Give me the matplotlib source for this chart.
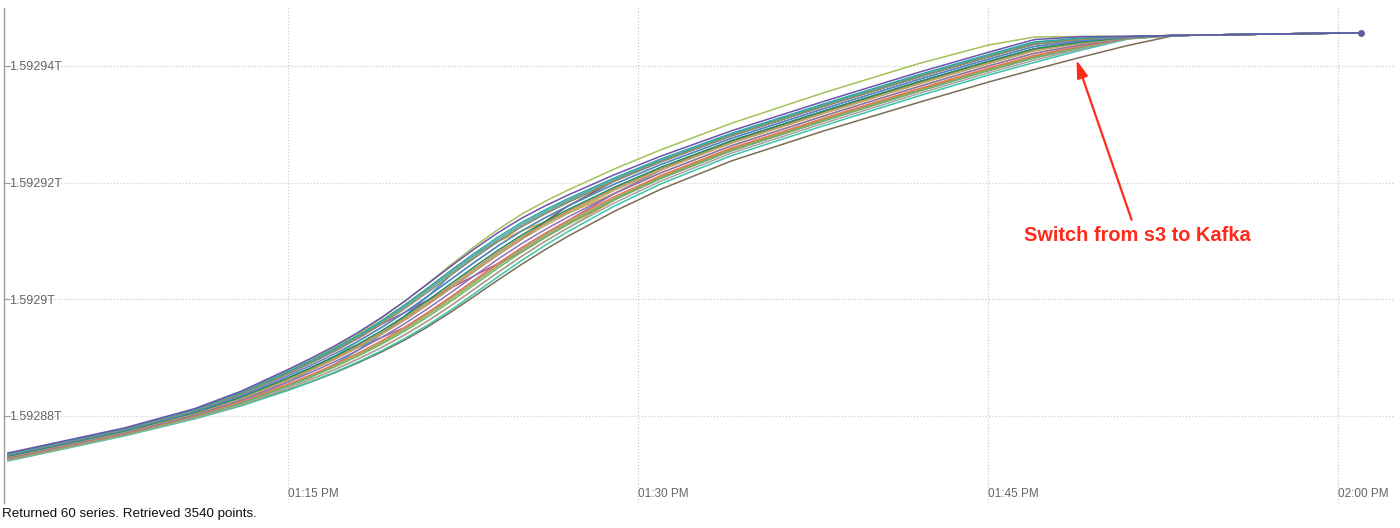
import datetime as dt
import matplotlib
matplotlib.use("Agg")
import matplotlib.pyplot as plt
import matplotlib.dates as mdates
from matplotlib.ticker import FixedLocator, FuncFormatter

plt.rcParams['font.family'] = ['Liberation Sans', 'DejaVu Sans']

# ---------------- data ----------------
BASE_TIME = dt.datetime(2020, 6, 23, 13, 0)   # 01:00 PM
BASE_T = 1.59288          # values below are offsets from this, in micro-T
UNIT = 1e-6

MINUTES = [3, 8, 11, 13, 15, 16, 17, 18, 19, 20, 21, 22, 23, 24, 25, 26, 27,
           29, 31, 34, 38, 42, 45, 47, 49, 51]
TAIL_MINUTES = [53, 57, 61]
TAIL = [65.21, 65.45, 65.67]

s01 = [-6.34, -2.04, 1.26, 4.26, 7.96, 9.91, 12.01, 14.31, 16.86, 19.66, 22.66, 25.71, 28.66, 31.41, 33.86, 35.96, 37.86, 41.36, 44.56, 48.86, 53.96, 58.86, 62.31, 64.51, 65.00, 65.07]
s02 = [-6.48, -2.18, 1.08, 4.01, 7.60, 9.51, 11.56, 13.80, 16.29, 19.02, 21.95, 24.96, 27.89, 30.65, 33.13, 35.28, 37.23, 40.82, 44.08, 48.43, 53.54, 58.45, 61.92, 64.12, 64.77, 65.02]
s03 = [-6.61, -2.31, 0.91, 3.76, 7.24, 9.10, 11.11, 13.30, 15.72, 18.38, 21.25, 24.21, 27.13, 29.90, 32.41, 34.61, 36.61, 40.29, 43.61, 48.01, 53.13, 58.05, 61.53, 63.73, 64.54, 64.98]
s04 = [-6.75, -2.45, 0.73, 3.50, 6.89, 8.70, 10.66, 12.79, 15.15, 17.74, 20.54, 23.46, 26.36, 29.14, 31.68, 33.93, 35.98, 39.75, 43.13, 47.58, 52.71, 57.64, 61.14, 63.34, 64.31, 64.93]
s05 = [-6.89, -2.59, 0.56, 3.25, 6.53, 8.30, 10.21, 12.29, 14.58, 17.10, 19.84, 22.71, 25.60, 28.39, 30.96, 33.26, 35.36, 39.22, 42.66, 47.16, 52.30, 57.24, 60.75, 62.95, 64.08, 64.88]
s06 = [-7.03, -2.73, 0.38, 3.00, 6.17, 7.89, 9.75, 11.78, 14.00, 16.45, 19.13, 21.95, 24.83, 27.63, 30.23, 32.58, 34.73, 38.68, 42.18, 46.73, 51.88, 56.83, 60.35, 62.55, 63.85, 64.83]
s07 = [-7.16, -2.86, 0.20, 2.75, 5.81, 7.49, 9.30, 11.27, 13.43, 15.81, 18.42, 21.20, 24.06, 26.87, 29.50, 31.90, 34.10, 38.14, 41.70, 46.30, 51.46, 56.42, 59.96, 62.16, 63.62, 64.79]
s08 = [-7.30, -3.00, 0.03, 2.50, 5.45, 7.09, 8.85, 10.77, 12.86, 15.17, 17.72, 20.45, 23.30, 26.12, 28.78, 31.23, 33.48, 37.61, 41.23, 45.88, 51.05, 56.02, 59.57, 61.77, 63.39, 64.74]
s09 = [-7.44, -3.14, -0.15, 2.24, 5.10, 6.69, 8.40, 10.26, 12.29, 14.53, 17.01, 19.70, 22.53, 25.36, 28.05, 30.55, 32.85, 37.07, 40.75, 45.45, 50.63, 55.61, 59.18, 61.38, 63.16, 64.69]
s10 = [-7.57, -3.27, -0.32, 1.99, 4.74, 6.28, 7.95, 9.76, 11.72, 13.89, 16.31, 18.95, 21.77, 24.61, 27.33, 29.88, 32.23, 36.54, 40.28, 45.03, 50.22, 55.21, 58.79, 60.99, 62.93, 64.65]
s11 = [-7.71, -3.41, -0.50, 1.74, 4.38, 5.88, 7.50, 9.25, 11.15, 13.25, 15.60, 18.20, 21.00, 23.85, 26.60, 29.20, 31.60, 36.00, 39.80, 44.60, 49.80, 54.80, 58.40, 60.60, 62.70, 64.60]
s12 = [-6.50, -2.20, 1.10, 4.05, 7.70, 9.65, 11.75, 14.10, 16.75, 19.65, 22.75, 25.95, 29.05, 31.95, 34.55, 36.75, 38.70, 42.35, 45.65, 50.15, 55.45, 60.35, 63.55, 64.95, 65.04, 65.07]
s13 = [-7.40, -3.20, -0.25, 1.95, 4.45, 5.85, 7.40, 9.10, 10.95, 13.00, 15.30, 17.85, 20.55, 23.30, 25.95, 28.45, 30.80, 35.10, 38.90, 43.70, 48.90, 53.70, 57.20, 59.40, 61.50, 63.50]
s14 = [-6.61, -2.31, 0.91, 3.76, 7.24, 9.10, 11.11, 13.30, 15.72, 17.74, 19.84, 21.95, 24.06, 26.12, 28.05, 30.55, 32.85, 37.07, 40.75, 45.45, 50.63, 55.61, 59.18, 61.38, 63.16, 64.69]
s15 = [-7.44, -3.14, -0.15, 2.24, 5.10, 6.69, 8.85, 11.27, 14.00, 17.10, 20.54, 24.21, 27.13, 29.90, 32.41, 34.61, 36.61, 40.29, 43.61, 48.01, 53.13, 58.05, 61.53, 63.73, 64.54, 64.98]
s16 = [-7.03, -2.73, 0.38, 3.00, 6.17, 7.89, 9.75, 11.78, 14.00, 16.45, 19.13, 21.95, 24.83, 27.63, 30.23, 33.26, 35.98, 40.29, 43.61, 48.01, 53.13, 58.05, 61.53, 63.73, 64.54, 64.98]
s17 = [-7.57, -3.27, -0.32, 1.99, 4.74, 6.28, 7.95, 9.76, 11.72, 13.89, 16.31, 18.95, 21.77, 24.61, 27.33, 29.88, 32.23, 37.07, 41.23, 45.88, 51.05, 56.02, 59.57, 61.77, 63.39, 64.74]
s18 = [-6.48, -2.18, 1.08, 4.01, 7.60, 9.51, 11.56, 13.80, 16.29, 19.02, 21.95, 24.96, 27.89, 29.90, 31.68, 33.26, 34.73, 38.14, 41.70, 46.30, 51.46, 56.42, 59.96, 62.16, 63.62, 64.79]
s19 = [-7.30, -3.00, 0.03, 2.50, 5.81, 7.89, 10.21, 12.79, 15.15, 17.74, 20.54, 23.46, 26.36, 29.14, 31.68, 33.93, 35.98, 39.75, 43.13, 47.58, 52.71, 57.64, 61.14, 63.34, 64.31, 64.93]
s20 = [-6.89, -2.59, 0.56, 3.25, 6.53, 8.30, 10.21, 11.78, 13.43, 15.17, 17.72, 20.45, 23.30, 26.12, 28.78, 31.23, 33.48, 38.14, 42.18, 47.16, 52.30, 57.24, 60.75, 62.95, 64.08, 64.88]
s21 = [-6.55, -2.25, 1.00, 3.89, 7.42, 9.31, 11.34, 13.55, 16.01, 18.70, 21.60, 24.59, 27.51, 30.28, 32.77, 34.95, 36.92, 40.56, 43.85, 48.22, 53.34, 58.25, 61.73, 63.93, 64.66, 65.00]
s22 = [-6.96, -2.66, 0.47, 3.13, 6.35, 8.10, 9.98, 12.04, 14.29, 16.78, 19.49, 22.33, 25.22, 28.01, 30.60, 32.92, 35.05, 38.95, 42.42, 46.95, 52.09, 57.04, 60.55, 62.75, 63.97, 64.86]
s23 = [-7.37, -3.07, -0.06, 2.37, 5.28, 6.89, 8.63, 10.52, 12.58, 14.85, 17.37, 20.08, 22.92, 25.74, 28.42, 30.89, 33.17, 37.34, 40.99, 45.67, 50.84, 55.82, 59.38, 61.58, 63.28, 64.72]

SERIES = [s13, s12, s11, s17, s20, s19, s18, s16, s15, s14, s23, s22, s21,
          s10, s09, s08, s07, s06, s05, s04, s03, s02, s01]
COLORS = ['#7b6d55', '#a3c25a', '#3cc3a8', '#e3a532', '#9c6b9c', '#58c27a',
          '#d9b23a', '#7a5c3c', '#3c9ec8', '#b05a8a', '#8fae4a', '#c98a5a',
          '#4aa6b0', '#a3a3a3', '#6fb26f', '#e07a5a', '#8e6fb8', '#b8a66a',
          '#1f8f5f', '#5b7fd6', '#9b8a5c', '#2fa8a0', '#6a52b0']

Y_TICKS = [1.59288, 1.59290, 1.59292, 1.59294]
X_TICK_MINUTES = [15, 30, 45, 60]
X_LIM_MINUTES = (2.83, 62.45)
Y_LIM_OFFSETS = (-14.91, 69.92)

ANNOT_TEXT = "Switch from s3 to Kafka"
ANNOT_TIP = (48.8, 61.0)
ANNOT_TEXT_POS = (51.4, 30.85)
FOOTER = "Returned 60 series. Retrieved 3540 points."


def t(m):
    return BASE_TIME + dt.timedelta(minutes=m)


def v(off):
    return BASE_T + off * UNIT


# ---------------- figure ----------------
fig = plt.figure(figsize=(14, 5.28), dpi=100)
ax = fig.add_axes([4 / 1400, 25 / 528, 1391 / 1400, 495 / 528])

xs = [t(m) for m in MINUTES + TAIL_MINUTES]
for ser, col in zip(SERIES, COLORS):
    ys = [v(o) for o in ser + TAIL]
    ax.plot(xs, ys, color=col, lw=1.1, solid_joinstyle='round')
# end marker
ax.plot([xs[-1]], [v(TAIL[-1])], marker='o', ms=4, color='#6a5a9a', ls='none')

ax.set_xlim(t(X_LIM_MINUTES[0]), t(X_LIM_MINUTES[1]))
ax.set_ylim(v(Y_LIM_OFFSETS[0]), v(Y_LIM_OFFSETS[1]))

ax.xaxis.set_major_locator(FixedLocator([mdates.date2num(t(m)) for m in X_TICK_MINUTES]))
ax.xaxis.set_major_formatter(mdates.DateFormatter('%I:%M %p'))
ax.yaxis.set_major_locator(FixedLocator(Y_TICKS))
ax.yaxis.set_major_formatter(FuncFormatter(lambda val, pos: f"{val:.6g}T"))

ax.grid(True, ls=(0, (1, 1.5)), color='#cfcfcf', lw=0.9)
ax.set_axisbelow(True)

for side in ['top', 'right', 'bottom']:
    ax.spines[side].set_visible(False)
ax.spines['left'].set_color('#9a9a9a')
ax.spines['left'].set_linewidth(1.0)

ax.tick_params(axis='y', direction='in', length=4, width=0.8, color='#9a9a9a',
               pad=-3.8, labelsize=9, labelcolor='#666666')
ax.tick_params(axis='x', direction='in', length=0, pad=-10.5,
               labelsize=8.5, labelcolor='#666666')
plt.setp(ax.yaxis.get_majorticklabels(), ha='left')
plt.setp(ax.xaxis.get_majorticklabels(), ha='left')

ax.annotate(ANNOT_TEXT, xy=(t(ANNOT_TIP[0]), v(ANNOT_TIP[1])),
            xytext=(t(ANNOT_TEXT_POS[0]), v(ANNOT_TEXT_POS[1])),
            color='#ff2a1a', fontsize=14.4, fontweight='bold',
            ha='center', va='center',
            arrowprops=dict(arrowstyle='-|>,head_length=0.7,head_width=0.22',
                            color='#ff2a1a', lw=1.6, mutation_scale=15,
                            shrinkA=3, shrinkB=0))

fig.text(2 / 1400, 1 - 514 / 528, FOOTER, ha='left', va='center',
         fontsize=9.6, color='#111111')

fig.savefig('out.png', dpi=100)
